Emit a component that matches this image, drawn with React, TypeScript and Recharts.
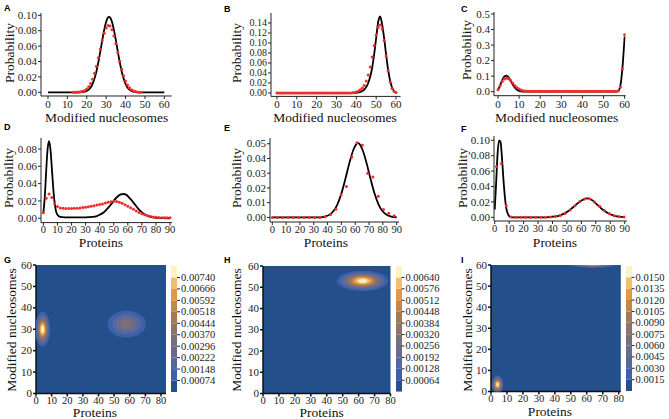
import React from 'react';
import { ComposedChart, Line, Scatter, XAxis, YAxis, BarChart, Bar, CartesianGrid } from 'recharts';

type Pt = [number, number];

// black line = model, red dots = simulation
const aFit: Pt[] = [
  [0, 0], [10, 0], [16, 0], [17, 0.0002], [18, 0.0004], [19, 0.0009], [20, 0.0018], [21, 0.0035], [22, 0.0064],
  [23, 0.011], [24, 0.0179], [25, 0.0274], [26, 0.0393], [27, 0.0532], [28, 0.0677], [29, 0.0811], [30, 0.0916],
  [31, 0.0973], [31.5, 0.098], [32, 0.0973], [33, 0.0916], [34, 0.0811], [35, 0.0677], [36, 0.0532], [37, 0.0393],
  [38, 0.0274], [39, 0.0179], [40, 0.011], [41, 0.0064], [42, 0.0035], [43, 0.0018], [44, 0.0009], [45, 0.0004],
  [46, 0.0002], [47, 0], [50, 0], [60, 0],
];
const aSim: Pt[] = [
  [13, 0], [14, 0.0001], [15, 0.0002], [16, 0.0003], [17, 0.0007], [18, 0.0013], [19, 0.0024], [20, 0.0043],
  [21, 0.0071], [22, 0.0113], [23, 0.0171], [24, 0.0247], [25, 0.034], [26, 0.0448], [27, 0.0562], [28, 0.0673],
  [29, 0.0768], [30, 0.0836], [31, 0.0868], [32, 0.086], [33, 0.0812], [34, 0.0732], [35, 0.063], [36, 0.0516],
  [37, 0.0404], [38, 0.0301], [39, 0.0214], [40, 0.0146], [41, 0.0094], [42, 0.0058], [43, 0.0034], [44, 0.0019],
  [45, 0.001], [46, 0.0005], [47, 0.0002], [48, 0.0001],
];

const bFit: Pt[] = [
  [0, 0], [30, 0], [38, 0], [40, 0.0005], [42, 0.002], [43, 0.004], [44, 0.007], [45, 0.012], [46, 0.02],
  [47, 0.033], [48, 0.051], [49, 0.078], [50, 0.11], [51, 0.142], [52, 0.153], [53, 0.137], [54, 0.11],
  [55, 0.077], [56, 0.047], [57, 0.025], [58, 0.011], [59, 0.004], [60, 0.001],
];
const bSim: Pt[] = [
  [0, 0], [1, 0], [2, 0], [3, 0], [4, 0], [5, 0], [6, 0], [7, 0], [8, 0], [9, 0],
  [10, 0], [11, 0], [12, 0], [13, 0], [14, 0], [15, 0], [16, 0], [17, 0], [18, 0], [19, 0],
  [20, 0], [21, 0], [22, 0], [23, 0], [24, 0], [25, 0], [26, 0], [27, 0], [28, 0], [29, 0],
  [30, 0], [31, 0], [32, 0], [33, 0], [34, 0], [35, 0], [36, 0], [37, 0], [38, 0.0005], [39, 0.001],
  [40, 0.002], [41, 0.004], [42, 0.0065], [43, 0.01], [44, 0.015], [45, 0.024], [46, 0.036], [47, 0.052],
  [48, 0.072], [49, 0.095], [50, 0.116], [51, 0.131], [52, 0.136], [53, 0.128], [54, 0.105], [55, 0.074],
  [56, 0.045], [57, 0.022], [58, 0.009], [59, 0.003], [60, 0.001],
];

const cFit: Pt[] = [
  [0, 0.012], [1, 0.04], [2, 0.075], [3, 0.098], [4, 0.103], [5, 0.092], [6, 0.07], [7, 0.045], [8, 0.025],
  [9, 0.012], [10, 0.005], [11, 0.002], [12, 0.0005], [13, 0], [56, 0], [57, 0.005], [58, 0.04], [59, 0.16], [60, 0.355],
];
const cSim: Pt[] = [
  [0, 0.012], [1, 0.038], [2, 0.065], [3, 0.082], [4, 0.087], [5, 0.083], [6, 0.072], [7, 0.056], [8, 0.04], [9, 0.027],
  [10, 0.017], [11, 0.01], [12, 0.006], [13, 0.004], [14, 0.003], [15, 0.003], [16, 0.003], [17, 0.003], [18, 0.003], [19, 0.003],
  [20, 0.003], [21, 0.003], [22, 0.003], [23, 0.003], [24, 0.003], [25, 0.003], [26, 0.003], [27, 0.003], [28, 0.003], [29, 0.003],
  [30, 0.003], [31, 0.003], [32, 0.003], [33, 0.003], [34, 0.003], [35, 0.003], [36, 0.003], [37, 0.003], [38, 0.003], [39, 0.003],
  [40, 0.003], [41, 0.003], [42, 0.003], [43, 0.003], [44, 0.003], [45, 0.003], [46, 0.003], [47, 0.003], [48, 0.003], [49, 0.003],
  [50, 0.003], [51, 0.003], [52, 0.003], [53, 0.003], [54, 0.003], [55, 0.003], [56, 0.003], [57, 0.004], [58, 0.03], [59, 0.146],
  [60, 0.366],
];

const dFit: Pt[] = [
  [0, 0.006], [1, 0.025], [2, 0.055], [3, 0.08], [4, 0.089], [5, 0.08], [6, 0.058], [7, 0.035], [8, 0.018], [9, 0.008],
  [10, 0.004], [12, 0.0015], [15, 0.001], [20, 0.001], [25, 0.001], [30, 0.001], [35, 0.0015], [38, 0.0025], [40, 0.004],
  [43, 0.007], [46, 0.012], [49, 0.018], [52, 0.024], [55, 0.0275], [57, 0.028], [59, 0.027], [62, 0.022], [65, 0.016],
  [68, 0.01], [71, 0.0055], [74, 0.0027], [77, 0.0012], [80, 0.0005], [85, 0.0001], [90, 0],
];
const dSim: Pt[] = [
  [0, 0.0065], [2, 0.023], [4, 0.028], [6, 0.024], [8, 0.017], [10, 0.0135], [12, 0.012], [14, 0.0115], [16, 0.0113],
  [18, 0.0112], [20, 0.0113], [22, 0.0115], [24, 0.0117], [26, 0.012], [28, 0.0123], [30, 0.0127], [32, 0.0132],
  [34, 0.0138], [36, 0.0145], [38, 0.0152], [40, 0.0158], [42, 0.0166], [44, 0.0176], [46, 0.0185], [48, 0.0192],
  [50, 0.0196], [52, 0.0193], [54, 0.0185], [56, 0.0172], [58, 0.0157], [60, 0.014], [62, 0.0122], [64, 0.0103],
  [66, 0.0085], [68, 0.0068], [70, 0.0052], [72, 0.004], [74, 0.003], [76, 0.0022], [78, 0.0016], [80, 0.0012],
  [82, 0.0009], [84, 0.0007], [86, 0.0006], [88, 0.0005], [90, 0.0005],
];

const eFit: Pt[] = [
  [0, 0], [30, 0], [35, 0.0001], [38, 0.0006], [41, 0.0016], [44, 0.004], [47, 0.0086], [50, 0.0162], [53, 0.0265],
  [56, 0.0377], [59, 0.0466], [62, 0.0505], [65, 0.0466], [68, 0.0377], [71, 0.0265], [74, 0.0162], [77, 0.0086],
  [80, 0.004], [83, 0.0016], [86, 0.0006], [89, 0.0002], [90, 0.0001],
];
const eSim: Pt[] = [
  [0, 0], [3.8, 0], [7.7, 0], [11.5, 0], [15.3, 0], [19.2, 0], [23, 0], [26.8, 0], [30.7, 0], [34.5, 0],
  [38.3, 0.0005], [42.2, 0.002], [46, 0.0055], [49.8, 0.0152], [53.7, 0.021], [57.5, 0.041], [61.3, 0.0507],
  [65.2, 0.049], [69, 0.03], [72.8, 0.0274], [76.7, 0.0143], [80.5, 0.0054], [84.3, 0.0029], [88.2, 0.0011],
];

const fFit: Pt[] = [
  [0, 0.01], [1, 0.045], [2, 0.083], [3, 0.1], [4, 0.098], [5, 0.078], [6, 0.05], [7, 0.027], [8, 0.012], [9, 0.005],
  [10, 0.0015], [11, 0.0005], [12, 0], [36, 0], [40, 0.0008], [44, 0.002], [48, 0.0048], [52, 0.0095], [56, 0.0158],
  [60, 0.0218], [63.5, 0.0246], [67, 0.0228], [70, 0.018], [74, 0.0112], [78, 0.0058], [82, 0.0024], [86, 0.0008], [90, 0.0002],
];
const fSim: Pt[] = [
  [1.2, 0.066], [4.6, 0.07], [8, 0.015], [11.4, 0.0005], [14.8, 0], [18.2, 0], [21.6, 0], [25, 0], [28.4, 0],
  [31.8, 0], [35.2, 0], [38.6, 0.0004], [42, 0.001], [45.4, 0.0025], [48.8, 0.005], [52.2, 0.0095], [55.6, 0.015],
  [59, 0.0205], [62.4, 0.0238], [65.8, 0.024], [69.2, 0.02], [72.6, 0.0145], [76, 0.009], [79.4, 0.0045],
  [82.8, 0.002], [86.2, 0.0008], [89.6, 0.0003],
];

// tick labels
const nucTicks = [0, 10, 20, 30, 40, 50, 60];
const protTicks = [0, 10, 20, 30, 40, 50, 60, 70, 80, 90];
const aYTicks = [0, 0.02, 0.04, 0.06, 0.08, 0.1];
const bYTicks = [0, 0.02, 0.04, 0.06, 0.08, 0.1, 0.12, 0.14];
const cYTicks = [0, 0.1, 0.2, 0.3, 0.4, 0.5];
const dYTicks = [0, 0.02, 0.04, 0.06, 0.08];
const eYTicks = [0, 0.01, 0.02, 0.03, 0.04, 0.05];
const fYTicks = [0, 0.02, 0.04, 0.06, 0.08, 0.1];
const mapXTicks = [0, 10, 20, 30, 40, 50, 60, 70, 80];
const mapYTicks = [0, 10, 20, 30, 40, 50, 60];

// joint distributions: gaussian blobs
const gBlobs = [
  { x: 4.2, y: 30, sx: 2.2, sy: 3.7, peak: 0.0081 },
  { x: 58, y: 32.4, sx: 6.9, sy: 3.5, peak: 0.0036 },
];
const hBlobs = [{ x: 62.5, y: 53, sx: 7.4, sy: 2.2, peak: 0.0069 }];
const iBlobs = [
  { x: 4.1, y: 3.3, sx: 1.7, sy: 2.0, peak: 0.016 },
  { x: 64, y: 61.5, sx: 7, sy: 1.2, peak: 0.03 },
];
const gLevels = [0.00074, 0.00148, 0.00222, 0.00296, 0.0037, 0.00444, 0.00518, 0.00592, 0.00666, 0.0074];
const hLevels = [0.00064, 0.00128, 0.00192, 0.00256, 0.0032, 0.00384, 0.00448, 0.00512, 0.00576, 0.0064];
const iLevels = [0.0015, 0.003, 0.0045, 0.006, 0.0075, 0.009, 0.0105, 0.012, 0.0135, 0.015];

const bandColors = [
  '#23508a', '#3c61a9', '#5668a0', '#6a6a8c', '#7b6e7b', '#8c7468',
  '#a47a56', '#c3874a', '#df9a48', '#f2bf6f', '#fdf2c2',
];

const SERIF = '"Liberation Serif", "Times New Roman", serif';
const PAD_L = 44;
const PAD_T = 10;
const PAD_R = 10;
const PAD_B = 22;

// tick text drawn with an explicit serif face
const serifTick = (fmt: (v: number) => string, size: number) => (p: any) => (
  <text
    x={p.x}
    y={p.y}
    textAnchor={p.textAnchor}
    dy={p.verticalAnchor === 'start' ? '0.72em' : '0.33em'}
    fontFamily={SERIF}
    fontSize={size}
    fill="#222"
  >
    {fmt(p.payload.value)}
  </text>
);
const plain = (v: number) => String(v);

function ProbPanel({ box, xDomain, yDomain, xTicks, yTicks, digits, fit, sim, yFont = 11, xFont = 11 }: any) {
  const [x0, y0, x1, y1] = box;
  const fitData = fit.map(([x, y]: Pt) => ({ x, y }));
  const simData = sim.map(([x, y]: Pt) => ({ x, y }));
  return (
    <div style={{ position: 'absolute', left: x0 - PAD_L, top: y0 - PAD_T }}>
      <ComposedChart
        width={x1 - x0 + PAD_L + PAD_R}
        height={y1 - y0 + PAD_T + PAD_B}
        margin={{ top: PAD_T, right: PAD_R, bottom: 0, left: 0 }}
      >
        <XAxis type="number" dataKey="x" domain={xDomain} ticks={xTicks} interval={0} allowDataOverflow
          height={PAD_B} tickSize={3} tickMargin={xFont < 11 ? 0 : 1} tick={serifTick(plain, xFont)} stroke="#222" />
        <YAxis type="number" dataKey="y" domain={yDomain} ticks={yTicks} interval={0} allowDataOverflow
          width={PAD_L} tickSize={3} tickMargin={1} stroke="#222"
          tick={serifTick((v) => v.toFixed(digits), yFont)} />
        <XAxis xAxisId="top" orientation="top" type="number" domain={xDomain} allowDataOverflow
          height={0} tick={false} tickLine={false} stroke="#222" />
        <YAxis yAxisId="right" orientation="right" type="number" domain={yDomain} allowDataOverflow
          width={0} tick={false} tickLine={false} stroke="#222" />
        <Line data={fitData} dataKey="y" type="monotone" stroke="#000" strokeWidth={1.8}
          dot={false} isAnimationActive={false} />
        <Scatter data={simData} dataKey="y" fill="#f42b2b" isAnimationActive={false}
          shape={(p: any) => <circle cx={p.cx} cy={p.cy} r={1.5} fill="#f42b2b" />} />
      </ComposedChart>
    </div>
  );
}

function MapPanel({ box, xMax, blobs, levels }: any) {
  const [x0, y0, x1, y1] = box;
  const kx = (x1 - x0) / xMax;
  const ky = (y1 - y0) / 60;
  // nested filled contours of one blob, outermost first
  const blobShape = (p: any) => {
    const b = p.payload;
    return (
      <g>
        {levels.map((lv: number, i: number) => {
          if (lv >= b.peak) return null;
          const r = Math.sqrt(2 * Math.log(b.peak / lv));
          return <ellipse key={i} cx={p.cx} cy={p.cy} rx={r * b.sx * kx} ry={r * b.sy * ky} fill={bandColors[i + 1]} />;
        })}
      </g>
    );
  };
  return (
    <div style={{ position: 'absolute', left: x0 - PAD_L, top: y0 - PAD_T }}>
      <ComposedChart
        width={x1 - x0 + PAD_L + PAD_R}
        height={y1 - y0 + PAD_T + PAD_B}
        margin={{ top: PAD_T, right: PAD_R, bottom: 0, left: 0 }}
      >
        <CartesianGrid fill={bandColors[0]} stroke="none" horizontal={false} vertical={false} />
        <XAxis type="number" dataKey="x" domain={[0, xMax]} ticks={mapXTicks} interval={0} allowDataOverflow
          height={PAD_B} tickSize={3} tickMargin={0} tick={serifTick(plain, 10.5)} stroke="#111" strokeWidth={1.5} />
        <YAxis type="number" dataKey="y" domain={[0, 60]} ticks={mapYTicks} interval={0} allowDataOverflow
          width={PAD_L} tickSize={3} tickMargin={1} tick={serifTick(plain, 11)} stroke="#111" strokeWidth={1.5} />
        <XAxis xAxisId="top" orientation="top" type="number" domain={[0, xMax]} allowDataOverflow
          height={0} tick={false} tickLine={false} stroke="#222" />
        <YAxis yAxisId="right" orientation="right" type="number" domain={[0, 60]} allowDataOverflow
          width={0} tick={false} tickLine={false} stroke="#222" />
        <Scatter data={blobs} dataKey="y" isAnimationActive={false} shape={blobShape} />
      </ComposedChart>
    </div>
  );
}

function ColorBar({ box, levels, digits }: any) {
  const [x0, y0, x1, y1] = box;
  const bounds = [0, ...levels, levels[levels.length - 1] + levels[0]];
  const row: Record<string, any> = { name: 'cb' };
  bandColors.forEach((_, i) => { row['b' + i] = bounds[i + 1] - bounds[i]; });
  return (
    <div style={{ position: 'absolute', left: x0, top: y0 }}>
      <BarChart width={x1 - x0 + 50} height={y1 - y0} data={[row]} barCategoryGap={0}
        margin={{ top: 0, right: 0, bottom: 0, left: 0 }}>
        <XAxis dataKey="name" hide />
        <YAxis orientation="right" type="number" domain={[0, bounds[bounds.length - 1]]} ticks={levels}
          interval={0} allowDataOverflow width={50} tickSize={3} tickMargin={1} axisLine={false}
          stroke="#222" tick={serifTick((v) => v.toFixed(digits), 10.5)} />
        {bandColors.map((c, i) => (
          <Bar key={i} dataKey={'b' + i} stackId="cb" fill={c} isAnimationActive={false} />
        ))}
      </BarChart>
    </div>
  );
}

function Txt({ x, y, text, rotate }: any) {
  return (
    <div style={{
      position: 'absolute', left: x, top: y, whiteSpace: 'nowrap', lineHeight: 1,
      transform: `translate(-50%, -50%)${rotate ? ' rotate(-90deg)' : ''}`,
      fontFamily: SERIF, fontSize: 13.5, color: '#111',
    }}>{text}</div>
  );
}

function Letter({ x, y, text }: any) {
  return (
    <div style={{
      position: 'absolute', left: x, top: y, lineHeight: 1,
      font: 'bold 9px "Liberation Sans", Arial, sans-serif', color: '#000',
    }}>{text}</div>
  );
}

export default function App() {
  return (
    <div style={{ position: 'absolute', left: 0, top: 0, width: 669, height: 419, background: '#fff', overflow: 'hidden' }}>
      <ProbPanel box={[41.3, 13, 172, 96]} xDomain={[-3.6, 63.8]} yDomain={[-0.0048, 0.103]}
        xTicks={nucTicks} yTicks={aYTicks} digits={2} fit={aFit} sim={aSim} />
      <ProbPanel box={[270.7, 13.3, 400.3, 96.7]} xDomain={[-3, 62.3]} yDomain={[-0.0068, 0.16]}
        xTicks={nucTicks} yTicks={bYTicks} digits={2} fit={bFit} sim={bSim} yFont={10} />
      <ProbPanel box={[494.3, 12.3, 626, 96]} xDomain={[-1.9, 60.5]} yDomain={[-0.026, 0.513]}
        xTicks={nucTicks} yTicks={cYTicks} digits={1} fit={cFit} sim={cSim} />
      <ProbPanel box={[41.3, 137.7, 172.3, 222.3]} xDomain={[-1.7, 91.4]} yDomain={[-0.005, 0.0927]}
        xTicks={protTicks} yTicks={dYTicks} digits={2} fit={dFit} sim={dSim} xFont={10.5} />
      <ProbPanel box={[270, 138.3, 399, 222.3]} xDomain={[-1.66, 91.7]} yDomain={[-0.0031, 0.0539]}
        xTicks={protTicks} yTicks={eYTicks} digits={2} fit={eFit} sim={eSim} xFont={10.5} />
      <ProbPanel box={[494.3, 136, 627.3, 221]} xDomain={[-0.5, 91.6]} yDomain={[-0.0048, 0.1056]}
        xTicks={protTicks} yTicks={fYTicks} digits={2} fit={fFit} sim={fSim} xFont={10.5} />

      <MapPanel box={[36.3, 265, 166.3, 393.5]} xMax={83.2} blobs={gBlobs} levels={gLevels} />
      <MapPanel box={[262.5, 265.5, 390, 393]} xMax={80} blobs={hBlobs} levels={hLevels} />
      <MapPanel box={[490.5, 265, 620.3, 391.5]} xMax={81.3} blobs={iBlobs} levels={iLevels} />
      <ColorBar box={[171, 266, 177, 392]} levels={gLevels} digits={5} />
      <ColorBar box={[396, 266, 401.5, 391.7]} levels={hLevels} digits={5} />
      <ColorBar box={[626, 266, 631.5, 391]} levels={iLevels} digits={4} />

      <Txt x={106.7} y={118} text="Modified nucleosomes" />
      <Txt x={335} y={118} text="Modified nucleosomes" />
      <Txt x={556.7} y={118} text="Modified nucleosomes" />
      <Txt x={9.5} y={53} text="Probability" rotate />
      <Txt x={236.7} y={53} text="Probability" rotate />
      <Txt x={466.7} y={50} text="Probability" rotate />
      <Txt x={101} y={243} text="Proteins" />
      <Txt x={326} y={243} text="Proteins" />
      <Txt x={555} y={243} text="Proteins" />
      <Txt x={9} y={178} text="Probability" rotate />
      <Txt x={236.7} y={178} text="Probability" rotate />
      <Txt x={462.7} y={178} text="Probability" rotate />
      <Txt x={95} y={413} text="Proteins" />
      <Txt x={321.7} y={413} text="Proteins" />
      <Txt x={550} y={412} text="Proteins" />
      <Txt x={11.7} y={330} text="Modified nucleosomes" rotate />
      <Txt x={236.7} y={330} text="Modified nucleosomes" rotate />
      <Txt x={467.7} y={330} text="Modified nucleosomes" rotate />

      <Letter x={4} y={2.8} text="A" />
      <Letter x={224} y={3.5} text="B" />
      <Letter x={461} y={3.5} text="C" />
      <Letter x={4} y={122} text="D" />
      <Letter x={224} y={123} text="E" />
      <Letter x={461} y={124} text="F" />
      <Letter x={4} y={254.5} text="G" />
      <Letter x={224} y={254.5} text="H" />
      <Letter x={461} y={254.5} text="I" />
    </div>
  );
}
